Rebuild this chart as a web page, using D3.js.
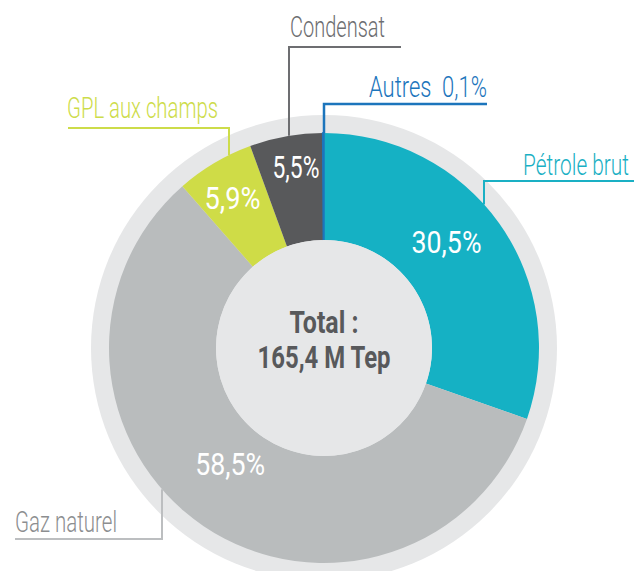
<!DOCTYPE html>
<html>
<head>
<meta charset="utf-8">
<script src="https://cdn.jsdelivr.net/npm/d3@7"></script>
<style>
  body { margin: 0; background: #fff; }
  text { font-family: Roboto, "Noto Sans", sans-serif; }
</style>
</head>
<body>
<div id="chart"></div>
<script>
// data
var categories = ["Pétrole brut", "Gaz naturel", "GPL aux champs", "Condensat", "Autres"];
var shares = [30.5, 58.5, 5.9, 5.5, 0.1];
var shareLabels = ["30,5%", "58,5%", "5,9%", "5,5%", "0,1%"];
var totalLines = ["Total :", "165,4 M Tep"];

// styles
var sliceColors = ["#15b1c4", "#b9bcbd", "#cfdc47", "#58595b", "#1c75bc"];
var labelColors = ["#1ab0c4", "#8c8e90", "#cddc4a", "#6d6e71", "#1c75bc"];
var lineColors  = ["#1ab0c4", "#bcbec0", "#cddc4a", "#6d6e71", "#1c75bc"];

var width = 634, height = 571;
var cx = 324, cy = 348;
var rRing = 233, rOuter = 215, rInner = 108;

var svg = d3.select("#chart")
  .append("svg")
    .attr("width", width)
    .attr("height", height);

// condensed look: squeeze text horizontally to a target width
function condensed(parent, x, y, w, anchor, str) {
  var t = parent.append("text")
    .attr("text-anchor", anchor)
    .text(str);
  return function(styleFn) {
    styleFn(t);
    var natural = t.node().getComputedTextLength();
    t.attr("transform", "translate(" + x + "," + y + ") scale(" + (w / natural) + ",1)");
    return t;
  };
}

var g = svg.append("g")
    .attr("transform", "translate(" + cx + "," + cy + ")");

// outer light ring
g.append("circle")
  .attr("r", rRing)
  .style("fill", "#e6e7e8");

var pie = d3.pie().sort(null).value(function(d) { return d; });
var arcs = pie(shares);

var arc = d3.arc().innerRadius(rInner).outerRadius(rOuter);

g.selectAll("path.slice")
  .data(arcs)
  .enter()
  .append("path")
    .attr("class", "slice")
    .attr("d", arc)
    .style("fill", function(d, i) { return sliceColors[i]; })
    .style("stroke", function(d, i) { return i === 4 ? sliceColors[i] : "none"; })
    .style("stroke-width", 1.5);

// center disc
g.append("circle")
  .attr("r", rInner)
  .style("fill", "#e6e7e8");

// percentage labels inside slices (radius + angle nudge per slice)
var pctLayout = [
  {r: 162, da: -5.5, w: 70},
  {r: 149, da: 5, w: 70},
  {r: 176, da: -0.7, w: 56},
  {r: 183, da: 1.4, w: 47},
  null
];

arcs.forEach(function(d, i) {
  var p = pctLayout[i];
  if (!p) return;
  var a = (d.startAngle + d.endAngle) / 2 + p.da * Math.PI / 180;
  condensed(g, p.r * Math.sin(a), -p.r * Math.cos(a) + 11, p.w, "middle", shareLabels[i])(function(t) {
    t.style("font-size", "31px")
     .style("font-weight", 400)
     .style("fill", "#fff");
  });
});

// total in the center
[[-15, 69], [20, 133]].forEach(function(pos, k) {
  condensed(g, 0, pos[0], pos[1], "middle", totalLines[k])(function(t) {
    t.style("font-size", "32px")
     .style("font-weight", 700)
     .style("fill", "#58595b");
  });
});

// leader lines and category names (page coordinates)
var legendLayout = [
  {vx: 484, hy: 181, hx: 634, tx: 629, ty: 175, w: 106, anchor: "end"},
  {vx: 162, hy: 539, hx: 15,  tx: 15,  ty: 532, w: 102, below: true},
  {vx: 229, hy: 128, hx: 68,  tx: 67,  ty: 118, w: 151},
  {vx: 289, hy: 47,  hx: 401, tx: 290, ty: 37,  w: 95},
  {vx: 324, hy: 104, hx: 487, tx: 369, ty: 97,  w: 118}
];

legendLayout.forEach(function(L, i) {
  var dx = L.vx - cx;
  var dy = Math.sqrt(rOuter * rOuter - dx * dx);
  var yArc = L.below ? cy + dy : cy - dy;
  svg.append("path")
    .attr("d", "M" + L.hx + "," + L.hy + "H" + L.vx + "V" + yArc)
    .style("fill", "none")
    .style("stroke", lineColors[i])
    .style("stroke-width", i === 4 ? 2.5 : 2);
  var label = i === 4 ? categories[i] + "  " + shareLabels[i] : categories[i];
  condensed(svg, L.tx, L.ty, L.w, L.anchor || "start", label)(function(t) {
    t.style("font-size", "30px")
     .style("font-weight", 300)
     .style("white-space", "pre")
     .style("fill", labelColors[i]);
  });
});
</script>
</body>
</html>
